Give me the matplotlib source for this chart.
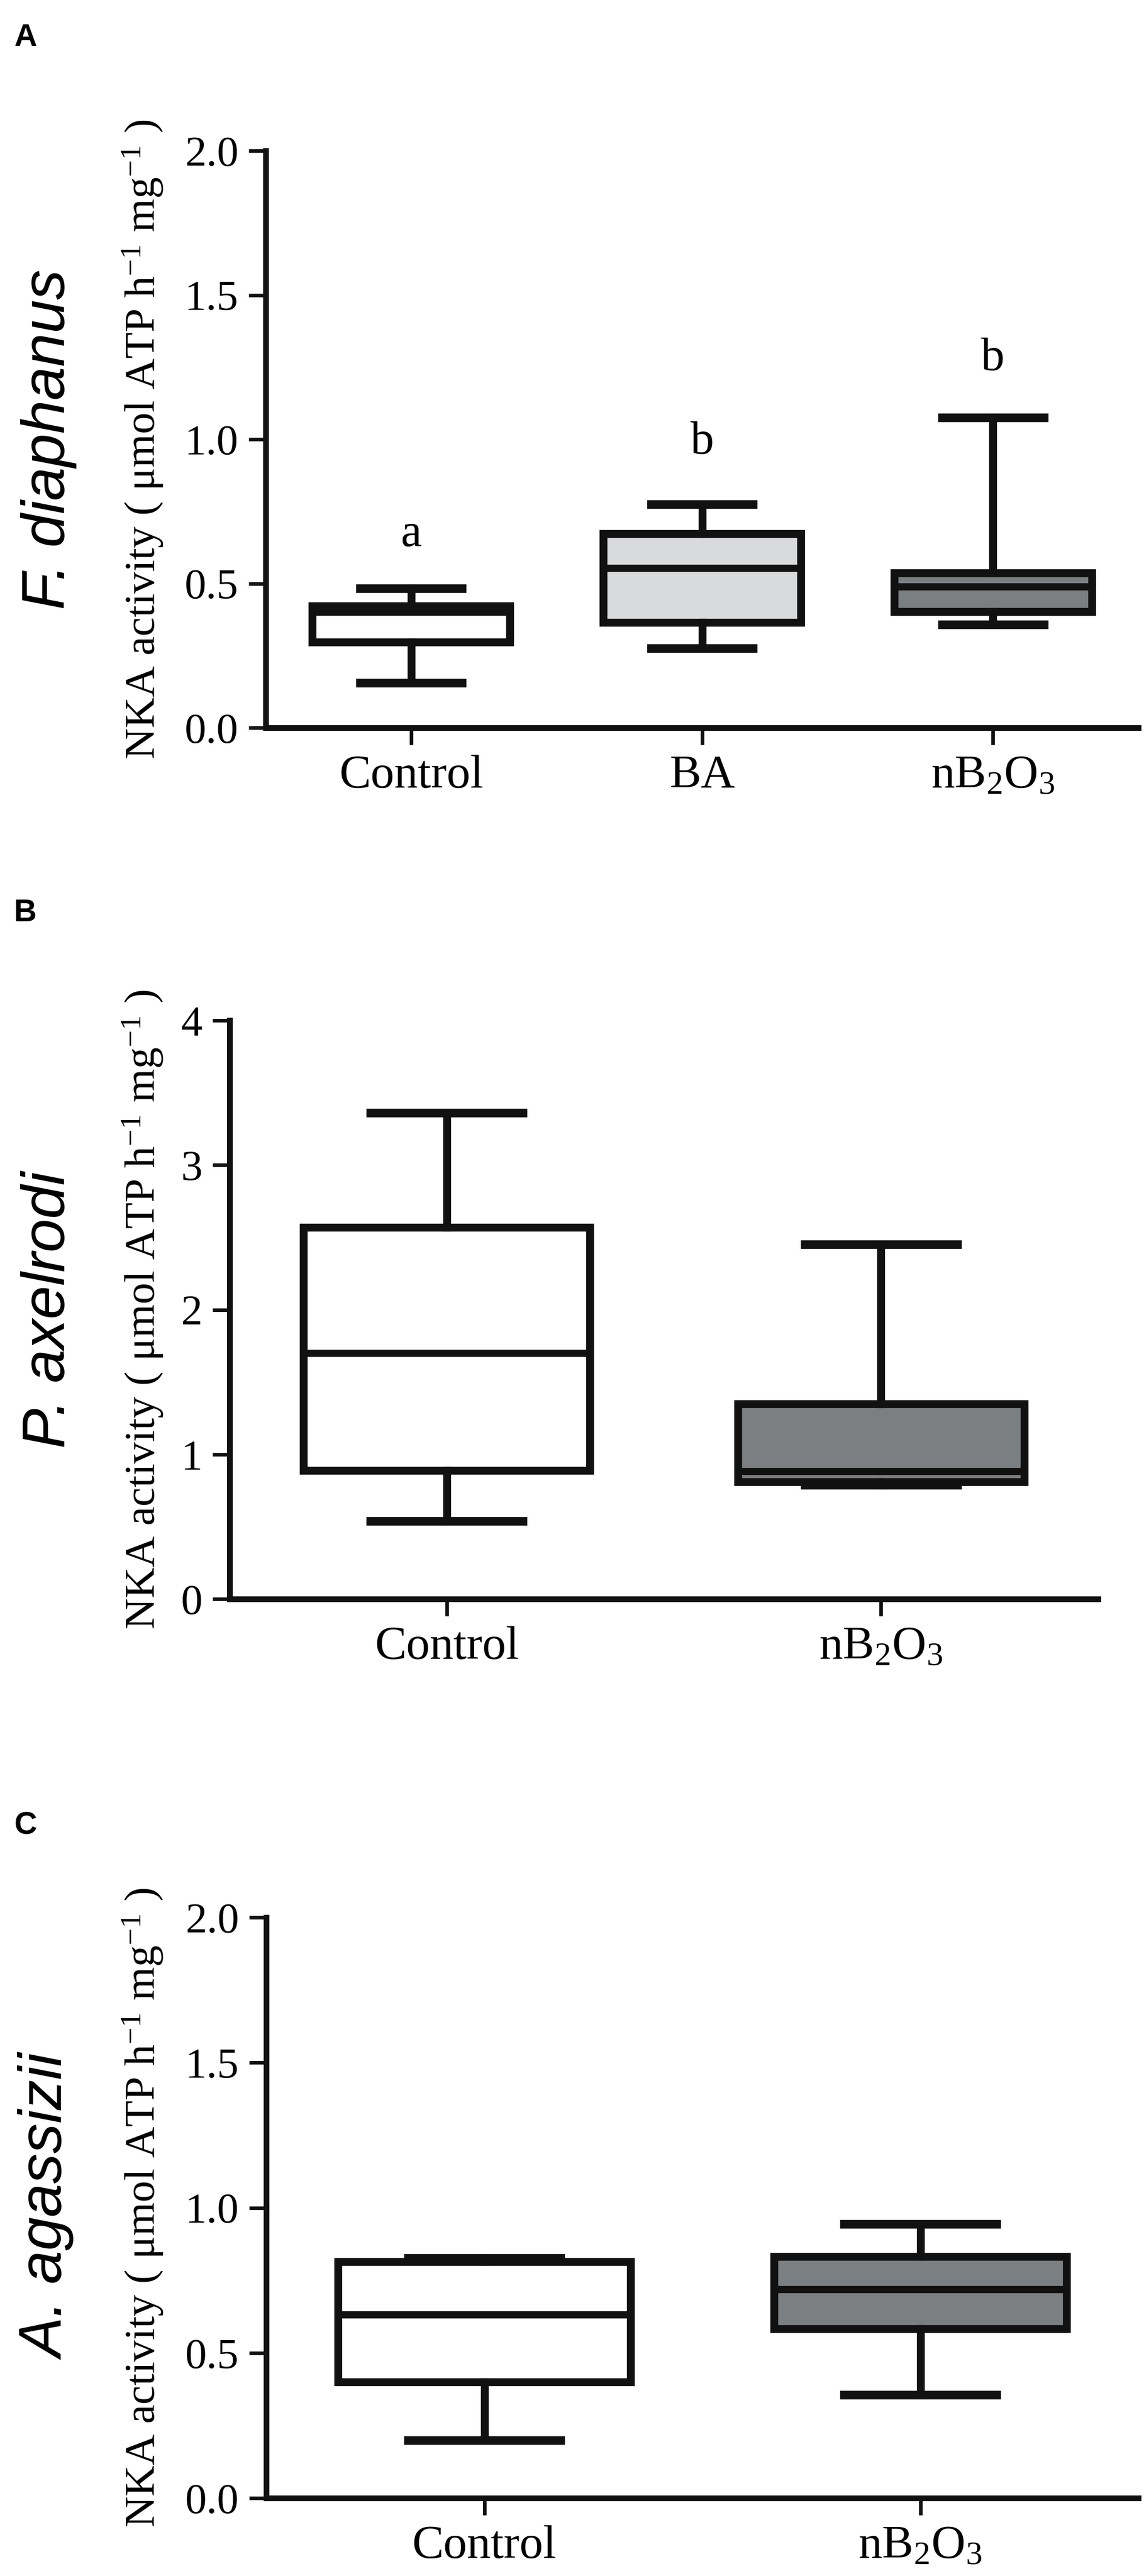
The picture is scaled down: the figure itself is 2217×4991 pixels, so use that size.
import numpy as np
import matplotlib
matplotlib.use('Agg')
import matplotlib.pyplot as plt

plt.rcParams['font.family'] = ['Liberation Serif', 'DejaVu Serif']
plt.rcParams['mathtext.fontset'] = 'custom'
plt.rcParams['mathtext.rm'] = 'Liberation Serif'
plt.rcParams['mathtext.it'] = 'Liberation Serif:italic'
plt.rcParams['mathtext.bf'] = 'Liberation Serif:bold'

# panel A - F. diaphanus
a_groups = ['Control', 'BA', 'nB$_2$O$_3$']
a_whislo = [0.155, 0.276, 0.358]
a_q1 = [0.297, 0.365, 0.402]
a_med = [0.400, 0.553, 0.489]
a_q3 = [0.423, 0.672, 0.536]
a_whishi = [0.483, 0.775, 1.075]
a_letters = ['a', 'b', 'b']
a_letter_y = [0.67, 0.99, 1.28]

# panel B - P. axelrodi
b_groups = ['Control', 'nB$_2$O$_3$']
b_whislo = [0.54, 0.79]
b_q1 = [0.89, 0.81]
b_med = [1.70, 0.88]
b_q3 = [2.57, 1.35]
b_whishi = [3.36, 2.45]

# panel C - A. agassizii
c_groups = ['Control', 'nB$_2$O$_3$']
c_whislo = [0.20, 0.356]
c_q1 = [0.40, 0.583]
c_med = [0.631, 0.718]
c_q3 = [0.814, 0.832]
c_whishi = [0.826, 0.944]

ylab = 'NKA activity ( \u03bcmol ATP h$^{-1}$ mg$^{-1}$ )'
white = '#ffffff'
light = '#d8dadb'
dark = '#7c7f82'
ink = '#111111'

W, H = 2217, 4991
fig = plt.figure(figsize=(W / 100, H / 100), dpi=100)


def draw_panel(px, groups, lo, q1, med, q3, hi, colors, ymax, yticks, ylabels,
               species, tag, tag_top, widths):
    left, top, right, bottom = px
    ax = fig.add_axes([left / W, 1 - bottom / H, (right - left) / W, (bottom - top) / H])
    stats = []
    for i in range(len(groups)):
        stats.append(dict(whislo=lo[i], q1=q1[i], med=med[i], q3=q3[i], whishi=hi[i], fliers=[]))
    pos = np.arange(len(groups))
    bp = ax.bxp(stats, positions=pos, widths=widths, capwidths=0.35, patch_artist=True,
                showfliers=False,
                boxprops=dict(linewidth=11, edgecolor=ink),
                medianprops=dict(color=ink, linewidth=10),
                whiskerprops=dict(color=ink, linewidth=11),
                capprops=dict(color=ink, linewidth=12))
    for patch, c in zip(bp['boxes'], colors):
        patch.set_facecolor(c)

    ax.set_xlim(-0.5, len(groups) - 0.5)
    ax.set_ylim(0, ymax)
    ax.set_yticks(yticks)
    ax.set_yticklabels(ylabels)
    ax.set_xticks(pos)
    ax.set_xticklabels(groups)
    for s in ['top', 'right']:
        ax.spines[s].set_visible(False)
    for s in ['left', 'bottom']:
        ax.spines[s].set_linewidth(8)
        ax.spines[s].set_color(ink)
    ax.tick_params(axis='both', width=5, length=24, color=ink, pad=14)
    ax.tick_params(axis='y', labelsize=60)
    ax.tick_params(axis='x', labelsize=66)

    ax.set_ylabel(ylab, fontsize=60)
    ax.yaxis.set_label_coords((320 - left) / (right - left), 0.5)

    fig.text(40 / W, 1 - (top + bottom) / 2 / H, species, rotation=90, ha='left', va='center',
             fontsize=84, family='Liberation Sans', style='italic')
    fig.text(27 / W, 1 - tag_top / H, tag, fontsize=44, fontweight='bold',
             family='Liberation Sans', ha='left', va='top')
    return ax


ax1 = draw_panel((515, 292, 2206, 1410), a_groups, a_whislo, a_q1, a_med, a_q3, a_whishi,
                 [white, light, dark], 2.0, [0, 0.5, 1.0, 1.5, 2.0],
                 ['0.0', '0.5', '1.0', '1.5', '2.0'], 'F. diaphanus', 'A', 45, 0.68)
for i, t in enumerate(a_letters):
    ax1.text(i, a_letter_y[i], t, ha='center', va='center', fontsize=66)

ax2 = draw_panel((445, 1977, 2128, 3098), b_groups, b_whislo, b_q1, b_med, b_q3, b_whishi,
                 [white, dark], 4, [0, 1, 2, 3, 4], ['0', '1', '2', '3', '4'],
                 'P. axelrodi', 'B', 1741, 0.66)

ax3 = draw_panel((516, 3715, 2206, 4840), c_groups, c_whislo, c_q1, c_med, c_q3, c_whishi,
                 [white, dark], 2.0, [0, 0.5, 1.0, 1.5, 2.0],
                 ['0.0', '0.5', '1.0', '1.5', '2.0'], 'A. agassizii', 'C', 3510, 0.67)

fig.savefig('out.png', dpi=100, facecolor='white')
